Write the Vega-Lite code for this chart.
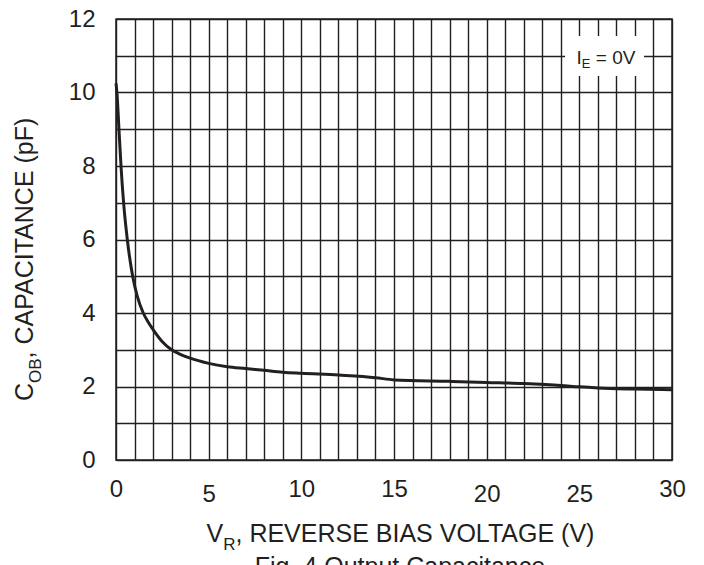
{
  "$schema": "https://vega.github.io/schema/vega-lite/v6.json",
  "width": 556,
  "height": 441,
  "autosize": {"type": "none"},
  "padding": {"left": 116, "top": 19, "right": 32, "bottom": 105},
  "background": "white",
  "config": {
    "view": {"stroke": "#231f20", "strokeWidth": 1.5},
    "font": "Liberation Sans",
    "text": {"font": "Liberation Sans", "color": "#231f20"}
  },
  "resolve": {"axis": {"x": "independent", "y": "independent"}},
  "datasets": {
    "curve": [
      {"v": 0, "c": 10.25},
      {"v": 0.05, "c": 10.0},
      {"v": 0.16, "c": 9.0},
      {"v": 0.27, "c": 8.0},
      {"v": 0.41, "c": 7.0},
      {"v": 0.61, "c": 6.0},
      {"v": 0.9, "c": 5.0},
      {"v": 1.15, "c": 4.45},
      {"v": 1.47, "c": 4.0},
      {"v": 1.75, "c": 3.74},
      {"v": 2.0, "c": 3.55},
      {"v": 2.5, "c": 3.22},
      {"v": 3.0, "c": 3.0},
      {"v": 3.5, "c": 2.87},
      {"v": 4, "c": 2.77},
      {"v": 5, "c": 2.63},
      {"v": 6, "c": 2.54},
      {"v": 7, "c": 2.49},
      {"v": 8, "c": 2.44},
      {"v": 9, "c": 2.39},
      {"v": 10, "c": 2.36},
      {"v": 12, "c": 2.31},
      {"v": 14, "c": 2.24},
      {"v": 15, "c": 2.18},
      {"v": 18, "c": 2.14},
      {"v": 20, "c": 2.11},
      {"v": 22, "c": 2.08},
      {"v": 24, "c": 2.03},
      {"v": 25, "c": 1.99},
      {"v": 26, "c": 1.96},
      {"v": 28, "c": 1.93},
      {"v": 30, "c": 1.91}
    ],
    "one": [{}]
  },
  "layer": [
    {
      "data": {"name": "curve"},
      "mark": {"type": "line", "interpolate": "monotone", "color": "#231f20", "strokeWidth": 3},
      "encoding": {
        "x": {
          "field": "v", "type": "quantitative",
          "scale": {"domain": [0, 30], "nice": false, "zero": false},
          "axis": {
            "title": null, "orient": "bottom",
            "values": [0,1,2,3,4,5,6,7,8,9,10,11,12,13,14,15,16,17,18,19,20,21,22,23,24,25,26,27,28,29,30],
            "labelExpr": "datum.value % 5 === 0 ? datum.label : ''",
            "grid": true, "gridColor": "#231f20", "gridWidth": 1.4, "gridOpacity": 1,
            "ticks": false, "tickSize": 0, "domain": false,
            "labelFont": "Liberation Sans", "labelFontSize": 24, "labelColor": "#231f20",
            "labelBaseline": "alphabetic",
            "labelPadding": {"condition": {"test": "datum.value == 5 || datum.value == 20 || datum.value == 25", "value": 41}, "value": 36.5},
            "labelFlush": false, "labelOverlap": false
          }
        },
        "y": {
          "field": "c", "type": "quantitative",
          "scale": {"domain": [0, 12], "nice": false},
          "axis": {
            "title": null, "orient": "left",
            "values": [0,1,2,3,4,5,6,7,8,9,10,11,12],
            "labelExpr": "datum.value % 2 === 0 ? datum.label : ''",
            "grid": true, "gridColor": "#231f20", "gridWidth": 1.4, "gridOpacity": 1,
            "ticks": false, "tickSize": 0, "domain": false,
            "labelFont": "Liberation Sans", "labelFontSize": 24, "labelColor": "#231f20",
            "labelBaseline": "middle", "labelPadding": 21,
            "labelFlush": false, "labelOverlap": false
          }
        }
      }
    },
    {
      "data": {"name": "one"},
      "mark": {"type": "rect", "fill": "white", "stroke": null},
      "encoding": {
        "x": {"datum": 24.23, "type": "quantitative", "axis": null},
        "x2": {"datum": 28.49},
        "y": {"datum": 10.45, "type": "quantitative", "axis": null},
        "y2": {"datum": 11.54}
      }
    },
    {
      "data": {"name": "one"},
      "mark": {"type": "text", "text": "I", "align": "left", "baseline": "alphabetic", "fontSize": 19},
      "encoding": {"x": {"datum": 24.85, "type": "quantitative", "axis": null}, "y": {"datum": 10.789, "type": "quantitative", "axis": null}}
    },
    {
      "data": {"name": "one"},
      "mark": {"type": "text", "text": "E", "align": "left", "baseline": "alphabetic", "fontSize": 13},
      "encoding": {"x": {"datum": 25.13, "type": "quantitative", "axis": null}, "y": {"datum": 10.657, "type": "quantitative", "axis": null}}
    },
    {
      "data": {"name": "one"},
      "mark": {"type": "text", "text": "= 0V", "align": "left", "baseline": "alphabetic", "fontSize": 19},
      "encoding": {"x": {"datum": 25.89, "type": "quantitative", "axis": null}, "y": {"datum": 10.789, "type": "quantitative", "axis": null}}
    },
    {
      "data": {"name": "one"},
      "mark": {"type": "text", "text": "V", "align": "left", "baseline": "alphabetic", "fontSize": 25},
      "encoding": {"x": {"datum": 4.883, "type": "quantitative", "axis": null}, "y": {"datum": -2.223, "type": "quantitative", "axis": null}}
    },
    {
      "data": {"name": "one"},
      "mark": {"type": "text", "text": "R", "align": "left", "baseline": "alphabetic", "fontSize": 17},
      "encoding": {"x": {"datum": 5.783, "type": "quantitative", "axis": null}, "y": {"datum": -2.441, "type": "quantitative", "axis": null}}
    },
    {
      "data": {"name": "one"},
      "mark": {"type": "text", "text": ", REVERSE BIAS VOLTAGE (V)", "align": "left", "baseline": "alphabetic", "fontSize": 25},
      "encoding": {"x": {"datum": 6.448, "type": "quantitative", "axis": null}, "y": {"datum": -2.223, "type": "quantitative", "axis": null}}
    },
    {
      "data": {"name": "one"},
      "mark": {"type": "text", "text": "C", "align": "left", "baseline": "alphabetic", "fontSize": 25, "angle": 270},
      "encoding": {"x": {"datum": -4.478, "type": "quantitative", "axis": null}, "y": {"datum": 1.605, "type": "quantitative", "axis": null}}
    },
    {
      "data": {"name": "one"},
      "mark": {"type": "text", "text": "OB", "align": "left", "baseline": "alphabetic", "fontSize": 17, "angle": 270},
      "encoding": {"x": {"datum": -4.047, "type": "quantitative", "axis": null}, "y": {"datum": 2.097, "type": "quantitative", "axis": null}}
    },
    {
      "data": {"name": "one"},
      "mark": {"type": "text", "text": ", CAPACITANCE (pF)", "align": "left", "baseline": "alphabetic", "fontSize": 25, "angle": 270},
      "encoding": {"x": {"datum": -4.478, "type": "quantitative", "axis": null}, "y": {"datum": 2.765, "type": "quantitative", "axis": null}}
    },
    {
      "data": {"name": "one"},
      "mark": {"type": "text", "text": "Fig. 4  Output Capacitance", "align": "center", "baseline": "alphabetic", "fontSize": 25},
      "encoding": {"x": {"datum": 15.32, "type": "quantitative", "axis": null}, "y": {"datum": -3.129, "type": "quantitative", "axis": null}}
    }
  ]
}
